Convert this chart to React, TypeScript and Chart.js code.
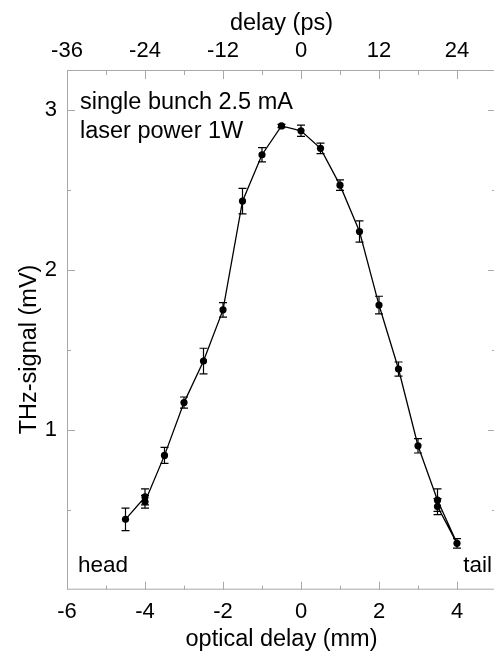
import React, { useEffect, useRef } from 'react';
import { Chart, registerables } from 'chart.js';

Chart.register(...registerables);

// optical delay (mm) of each measurement
const delayMm = [-4.5, -4, -4, -3.5, -3, -2.5, -2, -1.5, -1, -0.5, 0, 0.5, 1, 1.5, 2, 2.5, 3, 3.5, 4, 3.5];
// THz signal (mV)
const signalMv = [0.44, 0.58, 0.55, 0.84, 1.17, 1.43, 1.75, 2.43, 2.72, 2.9, 2.87, 2.76, 2.53, 2.24, 1.78, 1.38, 0.9, 0.56, 0.29, 0.52];
// error (± mV)
const errorMv = [0.07, 0.05, 0.04, 0.05, 0.035, 0.08, 0.045, 0.08, 0.045, 0.01, 0.035, 0.033, 0.033, 0.066, 0.055, 0.044, 0.045, 0.07, 0.03, 0.05];

const mmTicks = [-6, -4, -2, 0, 2, 4];
const mmMinorTicks = [-5, -3, -1, 1, 3];
const psTicks = [-36, -24, -12, 0, 12, 24];
const psMinorTicks = [-30, -18, -6, 6, 18];
const mvTicks = [1, 2, 3];
const mvMinorTicks = [0.5, 1.5, 2.5];

const FONT = '"Liberation Sans", Arial, Helvetica, sans-serif';
const AXIS_GREY = '#a8a8a8';
const NBSP = '\u00A0';

const frameTicksPlugin = {
  id: 'frameTicks',
  beforeDatasetsDraw(chart: any) {
    const { ctx, chartArea: a, scales } = chart;
    ctx.save();
    ctx.strokeStyle = AXIS_GREY;
    ctx.lineWidth = 1;
    ctx.strokeRect(a.left + 0.5, a.top + 0.5, a.right - a.left - 1, a.bottom - a.top - 1);
    const line = (x1: number, y1: number, x2: number, y2: number) => {
      ctx.beginPath();
      ctx.moveTo(x1, y1);
      ctx.lineTo(x2, y2);
      ctx.stroke();
    };
    const px = (v: number) => Math.round(scales.x.getPixelForValue(v)) + 0.5;
    const pp = (v: number) => Math.round(scales.x2.getPixelForValue(v)) + 0.5;
    const py = (v: number) => Math.round(scales.y.getPixelForValue(v)) + 0.5;
    mmTicks.forEach((v) => line(px(v), a.bottom, px(v), a.bottom - 8));
    mmMinorTicks.forEach((v) => line(px(v), a.bottom, px(v), a.bottom - 4));
    psTicks.forEach((v) => line(pp(v), a.top, pp(v), a.top + 9));
    psMinorTicks.forEach((v) => line(pp(v), a.top, pp(v), a.top + 5));
    mvTicks.forEach((v) => {
      line(a.left, py(v), a.left + 8, py(v));
      line(a.right, py(v), a.right - 8, py(v));
    });
    mvMinorTicks.forEach((v) => {
      line(a.left, py(v), a.left + 4, py(v));
      line(a.right, py(v), a.right - 4, py(v));
    });
    ctx.restore();
  },
};

const errorBarPlugin = {
  id: 'errorBars',
  afterDatasetsDraw(chart: any) {
    const { ctx, scales } = chart;
    ctx.save();
    ctx.strokeStyle = '#000';
    ctx.lineWidth = 1.2;
    delayMm.forEach((x, i) => {
      const cx = scales.x.getPixelForValue(x);
      const yTop = scales.y.getPixelForValue(signalMv[i] + errorMv[i]);
      const yBot = scales.y.getPixelForValue(signalMv[i] - errorMv[i]);
      ctx.beginPath();
      ctx.moveTo(cx, yTop);
      ctx.lineTo(cx, yBot);
      ctx.moveTo(cx - 4, yTop);
      ctx.lineTo(cx + 4, yTop);
      ctx.moveTo(cx - 4, yBot);
      ctx.lineTo(cx + 4, yBot);
      ctx.stroke();
    });
    ctx.restore();
  },
};

const textPlugin = {
  id: 'annotTexts',
  afterDraw(chart: any) {
    const { ctx, chartArea: a } = chart;
    ctx.save();
    ctx.fillStyle = '#000';
    ctx.textBaseline = 'middle';
    ctx.textAlign = 'left';
    ctx.font = `23.5px ${FONT}`;
    ctx.fillText('single bunch 2.5 mA', a.left + 13, a.top + 33);
    ctx.fillText('laser power 1W', a.left + 13, a.top + 62);
    ctx.font = `22.5px ${FONT}`;
    ctx.fillText('head', a.left + 11, a.bottom - 24);
    ctx.textAlign = 'right';
    ctx.fillText('tail', a.right - 4, a.bottom - 24);
    ctx.restore();
  },
};

export default function App() {
  const ref = useRef<HTMLCanvasElement | null>(null);

  useEffect(() => {
    if (!ref.current) return;
    const tickFont = { family: FONT, size: 22 };
    const titleFont = { family: FONT, size: 23.5 };
    const chart = new Chart(ref.current, {
      type: 'line',
      data: {
        datasets: [
          {
            data: delayMm.map((x, i) => ({ x, y: signalMv[i] })),
            borderColor: '#000',
            borderWidth: 1.3,
            pointRadius: 3.6,
            pointBackgroundColor: '#000',
            pointBorderWidth: 0,
            tension: 0,
            fill: false,
          },
        ],
      },
      options: {
        animation: false,
        responsive: false,
        maintainAspectRatio: false,
        layout: { padding: { left: 0, right: 4, top: 0, bottom: 0 } },
        plugins: { legend: { display: false }, tooltip: { enabled: false } },
        scales: {
          x: {
            type: 'linear',
            position: 'bottom',
            min: -6,
            max: 5,
            grid: { display: false, drawTicks: false },
            border: { display: false },
            afterBuildTicks: (s: any) => {
              s.ticks = mmTicks.map((v) => ({ value: v }));
            },
            afterFit: (s: any) => {
              s.height = 64.3;
            },
            ticks: {
              padding: 9,
              autoSkip: false,
              maxRotation: 0,
              color: '#000',
              font: tickFont,
              callback: (v: any) => String(v),
            },
            title: {
              display: true,
              text: 'optical delay (mm)',
              color: '#000',
              font: titleFont,
              padding: { top: 0, bottom: 0 },
            },
          },
          x2: {
            type: 'linear',
            position: 'top',
            min: -36,
            max: 30,
            grid: { display: false, drawTicks: false },
            border: { display: false },
            afterBuildTicks: (s: any) => {
              s.ticks = psTicks.map((v) => ({ value: v }));
            },
            afterFit: (s: any) => {
              s.height = 70;
            },
            ticks: {
              padding: 6,
              autoSkip: false,
              maxRotation: 0,
              color: '#000',
              font: tickFont,
              callback: (v: any) => String(v),
            },
            title: {
              display: true,
              text: 'delay (ps)',
              color: '#000',
              font: titleFont,
              padding: { top: 9.5, bottom: 0 },
            },
          },
          y: {
            type: 'linear',
            position: 'left',
            min: 0,
            max: 3.25,
            grid: { display: false, drawTicks: false },
            border: { display: false },
            afterBuildTicks: (s: any) => {
              s.ticks = mvTicks.map((v) => ({ value: v }));
            },
            afterFit: (s: any) => {
              s.width = 67;
            },
            ticks: {
              padding: 10,
              autoSkip: false,
              color: '#000',
              font: tickFont,
              callback: (v: any) => String(v),
            },
            title: {
              display: true,
              text: 'THz-signal (mV)' + NBSP.repeat(6),
              color: '#000',
              font: titleFont,
              padding: { top: 15, bottom: 0 },
            },
          },
        },
      },
      plugins: [frameTicksPlugin, errorBarPlugin, textPlugin],
    } as any);
    return () => chart.destroy();
  }, []);

  return (
    <div style={{ position: 'absolute', left: 0, top: 0, width: 494, height: 654, overflow: 'hidden', background: '#fff' }}>
      <canvas ref={ref} width={500} height={654} style={{ display: 'block' }} />
    </div>
  );
}
